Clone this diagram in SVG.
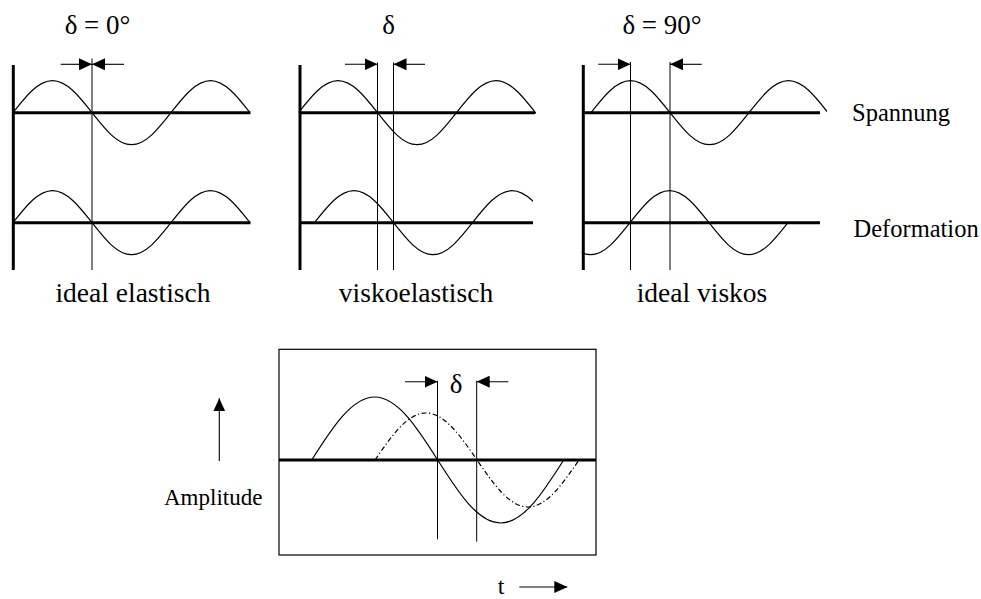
<svg xmlns="http://www.w3.org/2000/svg" width="981" height="599" viewBox="0 0 981 599">
<style>
  text { font-family: "Liberation Serif", "Times New Roman", serif; fill: #000; }
  .lbl { font-size: 27.5px; text-anchor: middle; }
  .dl { font-size: 27px; text-anchor: middle; }
  .side { font-size: 24.5px; }
  .axis { stroke: #000; stroke-width: 3; fill: none; }
  .thin { stroke: #000; stroke-width: 1; fill: none; }
  .wave { stroke: #000; stroke-width: 1.2; fill: none; }
  .arr { stroke: #000; stroke-width: 1.1; fill: none; marker-end: url(#ah); }
  .dd { stroke-dasharray: 5 2.5 1.2 2.5; }
</style>
<defs>
  <marker id="ah" viewBox="0 0 13 12" refX="13" refY="6" markerWidth="13" markerHeight="12" markerUnits="userSpaceOnUse" orient="auto">
    <path d="M0,0 L13,6 L0,12 z" fill="#000"/>
  </marker>
  <path id="w" d="M0,0 C12.9,-16.4 25.2,-32 39.5,-32 S66.1,-16.4 79,0 S104.2,32 118.5,32 S145.1,16.4 158,0 S183.2,-32 197.5,-32 S224.1,-16.4 237,0 S262.2,32 276.5,32 S303.1,16.4 316,0"/>
  <clipPath id="c1" clipPathUnits="userSpaceOnUse"><rect x="13" y="40" width="237" height="240"/></clipPath>
  <clipPath id="c2t" clipPathUnits="userSpaceOnUse"><rect x="298.5" y="40" width="237.5" height="120"/></clipPath>
  <clipPath id="c2b" clipPathUnits="userSpaceOnUse"><rect x="314.5" y="160" width="218.5" height="120"/></clipPath>
  <clipPath id="c3t" clipPathUnits="userSpaceOnUse"><rect x="591" y="40" width="236" height="120"/></clipPath>
  <clipPath id="c3b" clipPathUnits="userSpaceOnUse"><rect x="581.7" y="160" width="207" height="120"/></clipPath>
</defs>

<g id="panel-elastic">
  <line class="axis" x1="13.3" y1="65" x2="13.3" y2="270"/>
  <line class="axis" x1="13" y1="112.7" x2="250.5" y2="112.7"/>
  <line class="axis" x1="13" y1="222.7" x2="250.5" y2="222.7"/>
  <g clip-path="url(#c1)">
    <use href="#w" class="wave" transform="translate(13,112.7)"/>
    <use href="#w" class="wave" transform="translate(13,222.7)"/>
  </g>
  <line class="thin" x1="92" y1="58.5" x2="92" y2="270"/>
  <text class="dl" x="97.5" y="34">δ = 0°</text>
  <text class="lbl" x="133" y="301.5">ideal elastisch</text>
</g>

<g id="panel-viscoelastic">
  <line class="axis" x1="300" y1="65" x2="300" y2="270"/>
  <line class="axis" x1="300" y1="112.7" x2="535" y2="112.7"/>
  <line class="axis" x1="300" y1="222.7" x2="533" y2="222.7"/>
  <g clip-path="url(#c2t)"><use href="#w" class="wave" transform="translate(298.5,112.7)"/></g>
  <g clip-path="url(#c2b)"><use href="#w" class="wave" transform="translate(314.5,222.7)"/></g>
  <line class="thin" x1="377.5" y1="62.5" x2="377.5" y2="270"/>
  <line class="thin" x1="393.5" y1="62.5" x2="393.5" y2="270"/>
  <text class="dl" x="388.5" y="34">δ</text>
  <text class="lbl" x="416" y="301.5">viskoelastisch</text>
</g>

<g id="panel-viscous">
  <line class="axis" x1="583.3" y1="65" x2="583.3" y2="270"/>
  <line class="axis" x1="583" y1="112.7" x2="820" y2="112.7"/>
  <line class="axis" x1="583" y1="222.7" x2="820" y2="222.7"/>
  <g clip-path="url(#c3t)"><use href="#w" class="wave" transform="translate(591,112.7)"/></g>
  <g clip-path="url(#c3b)"><use href="#w" class="wave" transform="translate(472,222.7)"/></g>
  <line class="thin" x1="630.5" y1="62" x2="630.5" y2="270"/>
  <line class="thin" x1="670" y1="62" x2="670" y2="270"/>
  <text class="dl" x="662" y="34">δ = 90°</text>
  <text class="lbl" x="702" y="301.5">ideal viskos</text>
  <text class="side" x="852" y="120.5">Spannung</text>
  <text class="side" x="853.5" y="237">Deformation</text>
</g>

<g id="panel-amplitude">
  <rect x="279" y="349.3" width="317" height="205.7" fill="none" stroke="#000" stroke-width="1.2"/>
  <line class="axis" x1="279" y1="460" x2="596" y2="460"/>
  <path class="wave" d="M311.7,460 C332.2,427.7 351.9,397 374.7,397 S417.2,427.7 437.7,460 S477.9,523 500.7,523 S543.2,492.3 563.7,460"/>
  <path class="wave dd" d="M375,460 C391.6,435.9 407.5,413 426,413 S460.4,435.9 477,460 S509.5,507 528,507 S562.4,484.1 579,460"/>
  <line class="thin" x1="437.5" y1="380.7" x2="437.5" y2="539.3"/>
  <line class="thin" x1="476.7" y1="380.7" x2="476.7" y2="541.7"/>
  <text class="dl" x="456" y="393.3">δ</text>
  <text x="164" y="505" style="font-size:23px">Amplitude</text>
  <text x="501" y="594" style="font-size:24px" text-anchor="middle">t</text>
</g>

<g id="connectors">
  <line class="arr" x1="60.7" y1="64.3" x2="92" y2="64.3"/>
  <line class="arr" x1="124" y1="64.3" x2="92" y2="64.3"/>
  <line class="arr" x1="345" y1="64.3" x2="377.5" y2="64.3"/>
  <line class="arr" x1="425" y1="64.3" x2="393.5" y2="64.3"/>
  <line class="arr" x1="598.3" y1="64.3" x2="630.5" y2="64.3"/>
  <line class="arr" x1="701.7" y1="64.3" x2="670" y2="64.3"/>
  <line class="arr" x1="405" y1="381.7" x2="437.5" y2="381.7"/>
  <line class="arr" x1="508.3" y1="381.7" x2="476.7" y2="381.7"/>
  <line class="arr" x1="219.3" y1="461" x2="219.3" y2="398.3"/>
  <line class="arr" x1="519.3" y1="587" x2="567.3" y2="587"/>
</g>
</svg>
